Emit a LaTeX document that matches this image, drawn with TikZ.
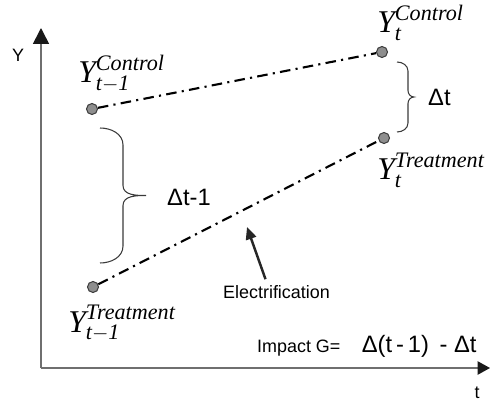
\documentclass[tikz,border=0pt]{standalone}
\usepackage{amsmath}
\usepackage{fontspec}
\setmainfont{Liberation Sans}
\newfontfamily\timesfont{Liberation Serif}
\usepackage{tikz}
\usetikzlibrary{positioning, arrows.meta}
\definecolor{didAxis}{HTML}{6F6F6F}
\definecolor{didPoint}{HTML}{8E8E8E}
\definecolor{didBrace}{HTML}{3A3A3A}

\begin{document}
\begin{tikzpicture}[
  pt/.style={draw=black!75, circle, fill=didPoint, line width=0.6pt, minimum size=0.22cm, inner sep=0pt},
  trend/.style={line width=1.2pt, dash pattern=on 6pt off 3pt on 1.2pt off 3pt},
  axis/.style={draw=didAxis, line width=0.9pt},
  brc/.style={draw=didBrace, line width=0.6pt},
  ylab/.style={font=\timesfont\fontsize{18}{20}\selectfont, anchor=base west, inner sep=0pt},
  txtbig/.style={font=\fontsize{13.5}{15}\selectfont},
  txtsmall/.style={font=\fontsize{10.2}{12}\selectfont}
]
\useasboundingbox (-0.82,-0.78) rectangle (9.0,7.36);

% axes
\coordinate (o) at (0,0);
\coordinate (yEnd) at (0,6.8);
\coordinate (xEnd) at (8.98,0);
\draw[axis, -{Triangle[length=9pt, width=9pt, color=black!90]}] (o) -- (yEnd);
\draw[axis, -{Triangle[length=7pt, width=7.5pt, color=black!90]}] (o) -- (xEnd);
\node[txtsmall] (yLab) at (-0.46,6.26) {Y};
\node[txtsmall] (tLab) at (8.72,-0.5) {t};

% outcome points
\node[pt] (cPre) at (1.02,5.18) {};
\node[pt] (cPost) at (6.82,6.32) {};
\node[pt] (tPost) at (6.86,4.60) {};
\node[pt] (tPre) at (1.04,1.62) {};

\draw[trend] (cPre) -- (cPost);
\draw[trend] (tPre) -- (tPost);

\node[ylab] (cPreLab) at (0.74,5.70) {$\textit{Y}^{\textit{Control}}_{\textit{t}-\textit{1}}$};
\node[ylab] (cPostLab) at (6.72,6.70) {$\textit{Y}^{\textit{Control}}_{\textit{t}}$};
\node[ylab] (tPostLab) at (6.72,3.76) {$\textit{Y}^{\textit{Treatment}}_{\textit{t}}$};
\node[ylab] (tPreLab) at (0.54,0.72) {$\textit{Y}^{\textit{Treatment}}_{\textit{t}-\textit{1}}$};

% braces
\draw[brc] (1.18,4.80) to[out=0,in=90] (1.64,4.46) -- (1.64,3.65)
  to[out=-90,in=180] (2.10,3.45) to[out=180,in=90] (1.64,3.25) -- (1.64,2.44)
  to[out=-90,in=0] (1.18,2.10);
\node[txtbig, anchor=west] (dPre) at (2.40,3.42) {Δt-1};

\draw[brc] (7.12,6.12) to[out=0,in=90] (7.34,5.94) -- (7.34,5.55)
  to[out=-90,in=180] (7.46,5.42) to[out=180,in=90] (7.34,5.29) -- (7.34,4.90)
  to[out=-90,in=0] (7.12,4.72);
\node[txtbig, anchor=west] (dPost) at (7.62,5.42) {Δt};

% treatment arrow
\node[txtsmall, anchor=west] (elec) at (3.52,1.52) {Electrification};
\coordinate (elecTip) at (4.12,2.82);
\draw[-{Triangle[length=7pt, width=6pt]}, line width=1.4pt, draw=black!85] ([xshift=-0.22cm]elec.north) -- (elecTip);

% impact
\node[txtsmall, anchor=base west] (impact) at (4.20,0.32) {Impact G=};
\node[txtbig, base right=0.18cm of impact] (impactEq) {Δ(t\,-\,1)\ \,-\ Δt};
\end{tikzpicture}
\end{document}
